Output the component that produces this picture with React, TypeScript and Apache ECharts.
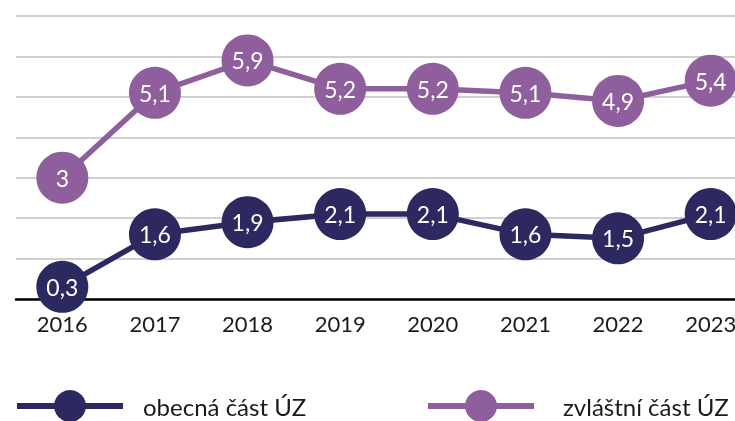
import React, { useEffect, useRef } from "react";
import * as echarts from "echarts";

const years = ["2016", "2017", "2018", "2019", "2020", "2021", "2022", "2023"];
const obecna = [0.3, 1.6, 1.9, 2.1, 2.1, 1.6, 1.5, 2.1];
const zvlastni = [3, 5.1, 5.9, 5.2, 5.2, 5.1, 4.9, 5.4];
const seriesNames = ["obecná část ÚZ", "zvláštní část ÚZ"];

const DARK = "#2b2960";
const PURPLE = "#8f5e9c";
const FONT = "Lato";

export default function App() {
  const ref = useRef<HTMLDivElement>(null);
  useEffect(() => {
    if (!ref.current) return;
    const chart = echarts.init(ref.current, null, { renderer: "svg" });
    const fmt = (p: any) => String(p.value).replace(".", ",");
    const mkSeries = (name: string, data: number[], color: string) => ({
      name,
      type: "line",
      data,
      symbol: "circle",
      symbolSize: 52,
      lineStyle: { color, width: 5.5 },
      itemStyle: { color },
      label: {
        show: true,
        position: "inside",
        color: "#ffffff",
        fontFamily: FONT,
        fontSize: 23,
        formatter: fmt,
      },
    });
    chart.setOption({
      animation: false,
      grid: {
        left: 16,
        top: 16,
        width: 741,
        bottom: 122,
        containLabel: false,
        outerBoundsMode: "none",
      },
      xAxis: {
        type: "category",
        data: years,
        boundaryGap: true,
        axisLine: { lineStyle: { color: "#000000", width: 2.5 } },
        axisTick: { show: false },
        axisLabel: { color: "#1a1a1a", fontFamily: FONT, fontSize: 22, margin: 13 },
      },
      yAxis: {
        type: "value",
        min: 0,
        max: 7,
        interval: 1,
        axisLine: { show: false },
        axisTick: { show: false },
        axisLabel: { show: false },
        splitLine: { lineStyle: { color: "#d0d0d0", width: 2 } },
      },
      legend: [
        {
          data: [seriesNames[0]],
          left: 14,
          top: 390,
          itemWidth: 106,
          itemHeight: 40,
          itemGap: 20,
          lineStyle: { width: 6 },
          textStyle: { color: "#1a1a1a", fontFamily: FONT, fontSize: 24, padding: [0, 0, 0, 15] },
          padding: 0,
        },
        {
          data: [seriesNames[1]],
          left: 425,
          top: 390,
          itemWidth: 106,
          itemHeight: 40,
          itemGap: 20,
          lineStyle: { width: 6 },
          textStyle: { color: "#1a1a1a", fontFamily: FONT, fontSize: 24, padding: [0, 0, 0, 24] },
          padding: 0,
        },
      ],
      series: [
        mkSeries(seriesNames[0], obecna, DARK),
        mkSeries(seriesNames[1], zvlastni, PURPLE),
      ],
    });
    return () => chart.dispose();
  }, []);
  return (
    <div
      ref={ref}
      style={{ position: "fixed", left: 0, top: 0, width: 735, height: 421 }}
    />
  );
}
